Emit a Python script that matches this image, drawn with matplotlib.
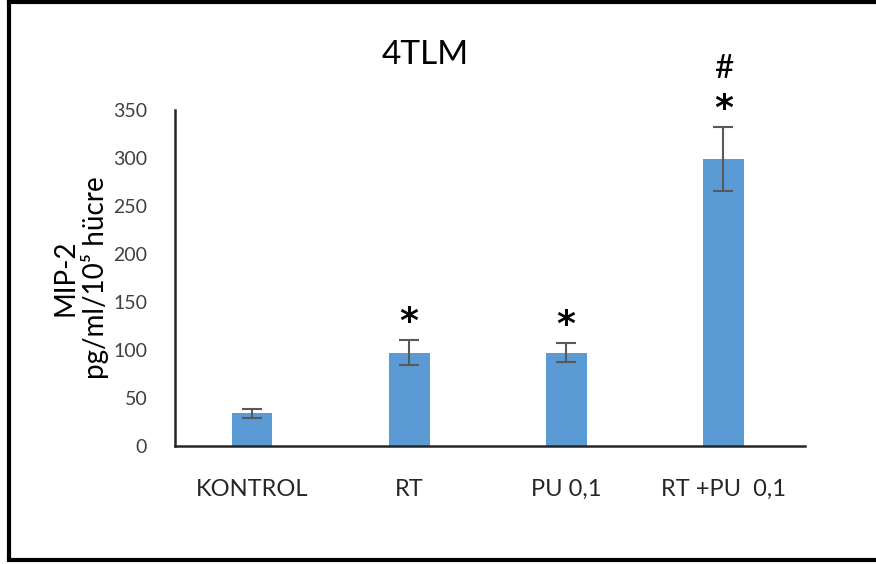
import matplotlib
matplotlib.use("Agg")
import matplotlib.pyplot as plt
from matplotlib.lines import Line2D

categories = ["KONTROL", "RT", "PU 0,1", "RT +PU  0,1"]
values = [34, 97, 97, 299]
errors = [4.5, 13, 10, 33]
marks = ["", "*", "*", "*"]
hash_marks = ["", "", "", "#"]
yticks = [0, 50, 100, 150, 200, 250, 300, 350]

plt.rcParams['font.family'] = ['Lato', 'DejaVu Sans']

fig = plt.figure(figsize=(8.76, 5.64), dpi=100)
ax = fig.add_axes([175/876, 1-446/564, (805-175)/876, (446-110)/564])

x = list(range(len(categories)))
ax.bar(x, values, width=0.26, color="#5B9BD5", zorder=2)
ax.errorbar(x, values, yerr=errors, fmt="none", ecolor="#595959",
            elinewidth=1.5, capsize=7, capthick=1.5, zorder=3)

for xi, v, e, m, h in zip(x, values, errors, marks, hash_marks):
    if m:
        ax.annotate(m, (xi, v + e), xytext=(0, 1), textcoords="offset points",
                    ha="center", va="bottom", fontsize=26, fontweight="bold",
                    family=["DejaVu Sans"])
    if h:
        ax.annotate(h, (xi, v + e), xytext=(0, 31), textcoords="offset points",
                    ha="center", va="bottom", fontsize=24)

ax.set_xlim(-0.49, 3.52)
ax.set_ylim(0, 350)
ax.set_yticks(yticks)
ax.set_xticks(x)
ax.set_xticklabels(categories, fontsize=17)
ax.tick_params(axis="y", labelsize=14, length=0, pad=20, colors="#404040")
ax.tick_params(axis="x", length=0, pad=24, colors="#262626")
for s in ["top", "right"]:
    ax.spines[s].set_visible(False)
for s in ["left", "bottom"]:
    ax.spines[s].set_linewidth(1.8)
    ax.spines[s].set_color("#262626")

ax.set_ylabel("MIP-2\npg/ml/10⁵ hücre", fontsize=20, labelpad=3,
              linespacing=1.12)
fig.text(425/876, 1-55/564, "4TLM", ha="center", va="center", fontsize=24)

# outer frame
fig.add_artist(Line2D([9/876, 9/876], [0.01, 0.997], transform=fig.transFigure,
                      color="black", lw=3))
fig.add_artist(Line2D([9/876, 1], [0.997, 0.997], transform=fig.transFigure,
                      color="black", lw=3))
fig.add_artist(Line2D([9/876, 1], [1-560/564, 1-560/564], transform=fig.transFigure,
                      color="black", lw=3))

fig.savefig("out.png", dpi=100, facecolor="white")
